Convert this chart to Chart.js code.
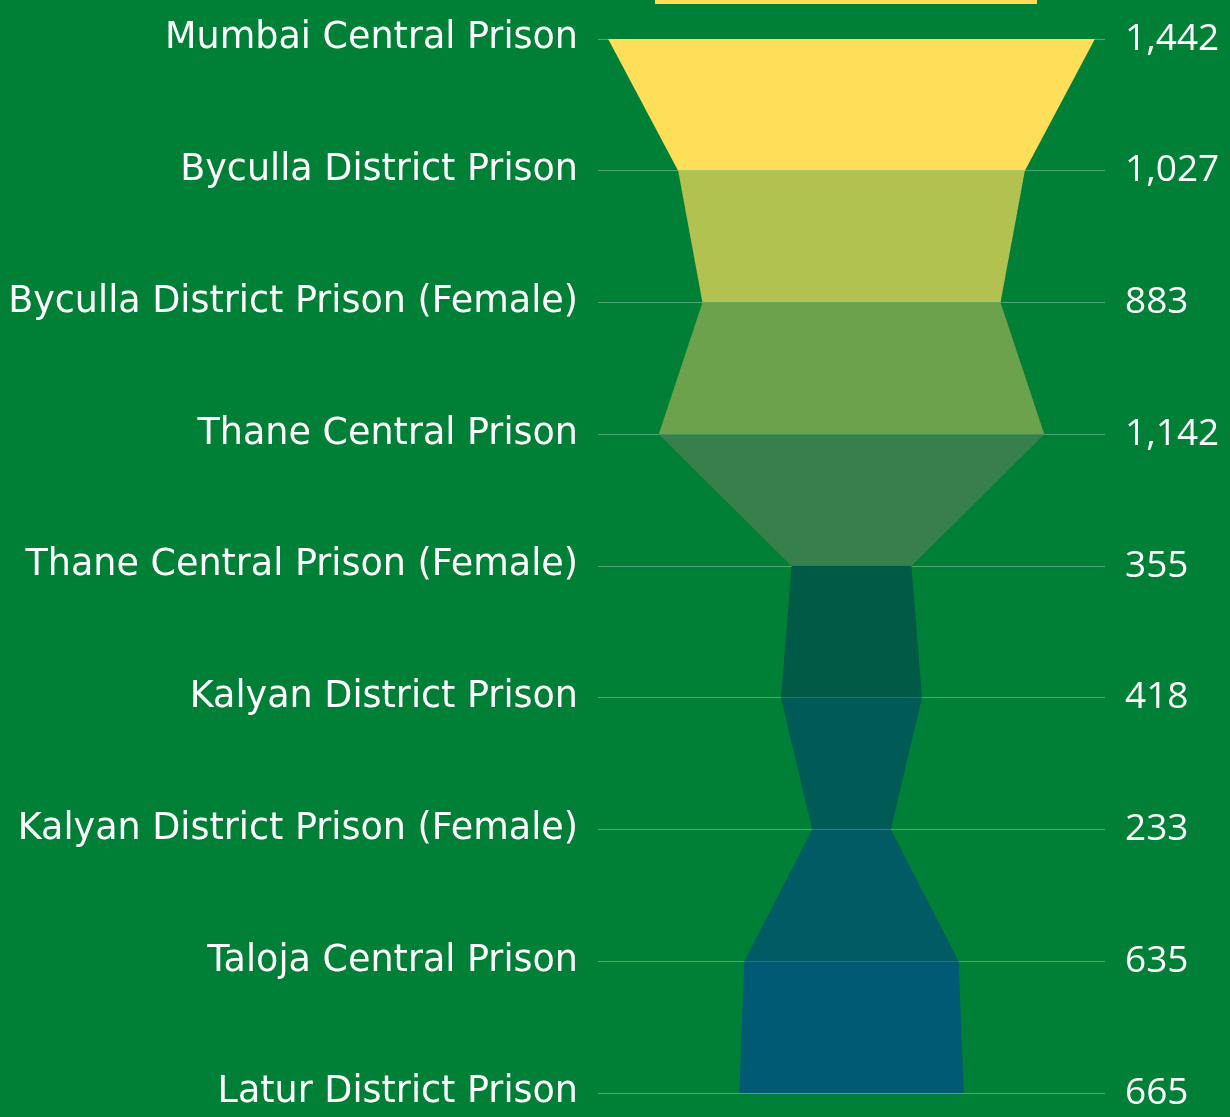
<!DOCTYPE html>
<html lang="en">
<head>
  <meta charset="UTF-8" />
  <title>Prison Occupancy Funnel</title>
  <script src="https://cdn.jsdelivr.net/npm/chart.js"></script>
  <style>
    html, body {
      margin: 0;
      padding: 0;
      background-color: #008037;
      overflow: hidden;
    }
    .chart-container {
      position: relative;
      width: 1230px;
      height: 1117px;
    }
    #top-bar {
      position: absolute;
      left: 655px;
      top: 0;
      width: 382px;
      height: 4px;
      background: #ffde59;
    }
  </style>
</head>
<body>
  <div class="chart-container">
    <div id="top-bar"></div>
    <canvas id="funnelChart" width="1230" height="1117"></canvas>
  </div>

  <script>
    const prisons = [
      'Mumbai Central Prison',
      'Byculla District Prison',
      'Byculla District Prison (Female)',
      'Thane Central Prison',
      'Thane Central Prison (Female)',
      'Kalyan District Prison',
      'Kalyan District Prison (Female)',
      'Taloja Central Prison',
      'Latur District Prison'
    ];
    const inmates = [1442, 1027, 883, 1142, 355, 418, 233, 635, 665];
    const bandColors = ['#ffde59', '#b1c250', '#6ba24b', '#37804e', '#005a46', '#005a55', '#005b64', '#005a73'];

    const valueLabels = inmates.map(v => v.toLocaleString('en-US'));

    // funnel is drawn as two mirrored lines with the fill between them
    new Chart(document.getElementById('funnelChart'), {
      type: 'line',
      data: {
        labels: prisons,
        datasets: [{
          data: inmates.map(v => v / 2),
          borderWidth: 0,
          pointRadius: 0,
          tension: 0,
          fill: 1,
          segment: {
            backgroundColor: ctx => bandColors[ctx.p0DataIndex]
          }
        }, {
          data: inmates.map(v => -v / 2),
          borderWidth: 0,
          pointRadius: 0,
          tension: 0,
          fill: false
        }]
      },
      options: {
        indexAxis: 'y',
        responsive: false,
        animation: false,
        layout: {
          padding: { top: 39, bottom: 24, left: 0, right: 0 }
        },
        plugins: {
          legend: { display: false },
          tooltip: { enabled: false }
        },
        scales: {
          x: {
            display: false,
            min: -751,
            max: 751
          },
          y: {
            type: 'category',
            position: 'left',
            offset: false,
            grid: {
              color: 'rgba(255,255,255,0.3)',
              lineWidth: 1,
              drawTicks: false
            },
            border: { display: false },
            ticks: {
              color: '#ffffff',
              font: { family: 'DejaVu Sans', size: 36.5 },
              padding: 20,
              autoSkip: false
            },
            afterFit: scale => {
              scale.width = 598;
              scale.paddingTop = 0;
              scale.paddingBottom = 0;
            }
          },
          y2: {
            type: 'category',
            position: 'right',
            labels: valueLabels,
            offset: false,
            grid: { display: false, drawTicks: false },
            border: { display: false },
            ticks: {
              color: '#ffffff',
              font: { family: 'Open Sans', size: 37 },
              padding: 20,
              autoSkip: false
            },
            afterFit: scale => {
              scale.width = 125;
              scale.paddingTop = 0;
              scale.paddingBottom = 0;
            }
          }
        }
      }
    });
  </script>
</body>
</html>
